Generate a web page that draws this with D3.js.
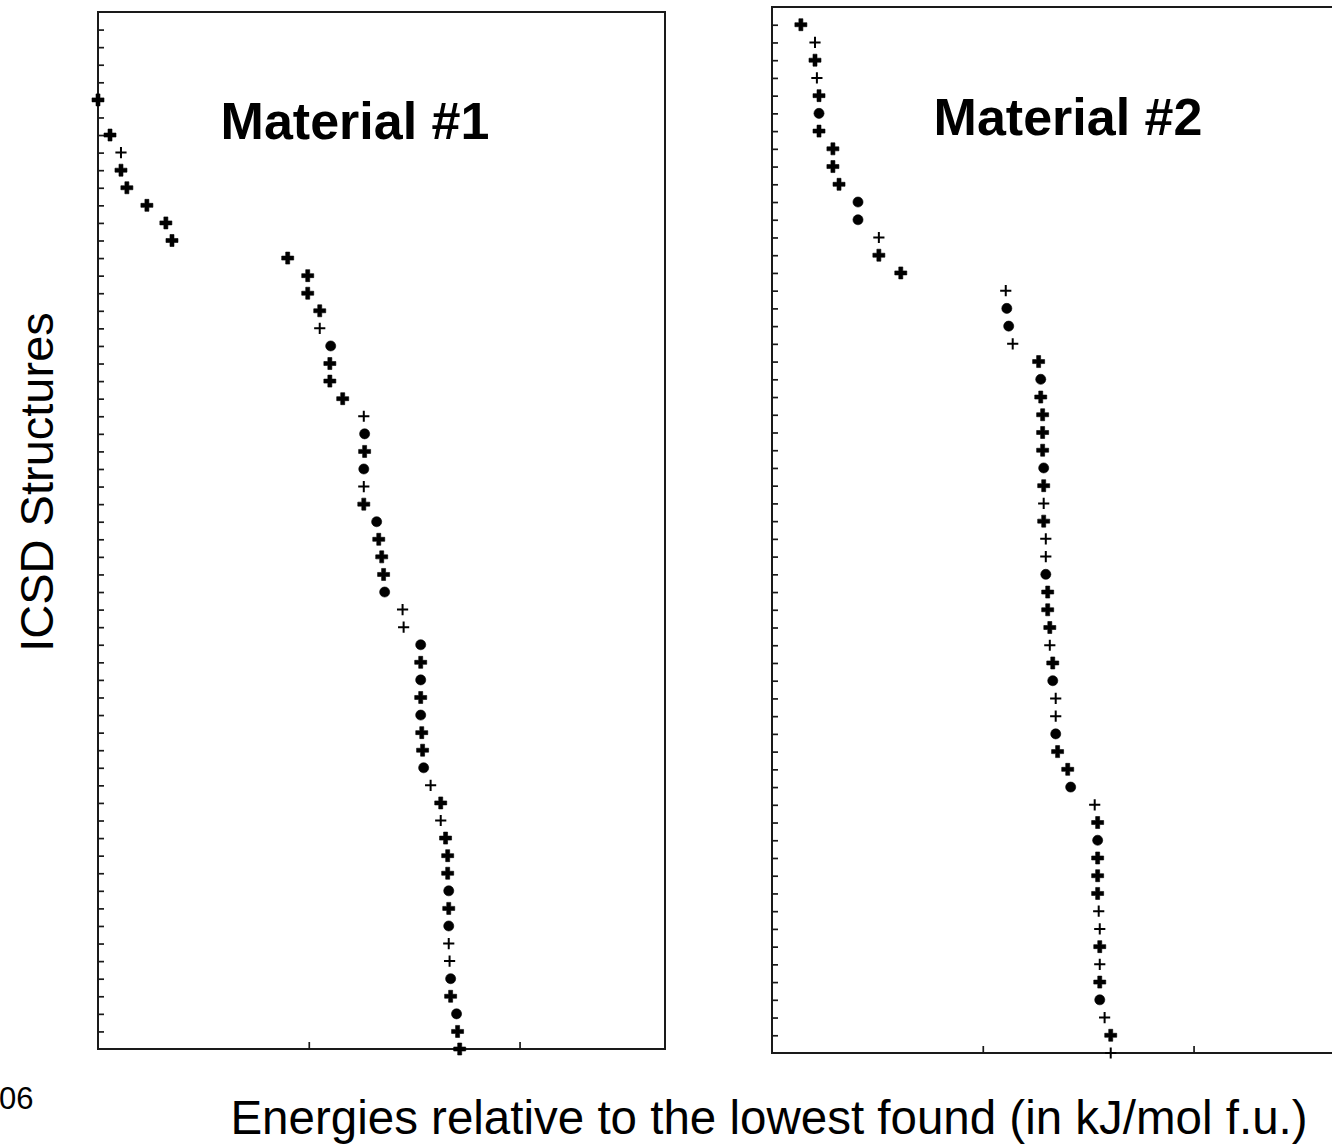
<!DOCTYPE html>
<html>
<head>
<meta charset="utf-8">
<script src="https://cdn.jsdelivr.net/npm/d3@7"></script>
<style>
  html, body { margin: 0; padding: 0; background: #fff; overflow: hidden; }
  svg { display: block; }
  text { font-family: "Liberation Sans", Arial, Helvetica, sans-serif; fill: #000; }
</style>
</head>
<body>
<svg id="chart" width="1332" height="1146"></svg>
<script>
// Rank of each ICSD structure (row 0 at the top, row 58 on the energy axis)
const rows = d3.range(59);

// Material #1: energy relative to the lowest structure found (kJ/mol f.u.), null = no structure
const energy1 = [
  null, null, null, null, 0.00, null, 0.57, 1.09, 1.09, 1.37,
  2.32, 3.22, 3.51, 9.00, 9.95, 9.95, 10.52, 10.52, 11.04, 11.00,
  11.00, 11.61, 12.61, 12.65, 12.65, 12.61, 12.61, 12.61, 13.22, 13.32,
  13.46, 13.55, 13.60, 14.45, 14.50, 15.31, 15.31, 15.31, 15.31, 15.31,
  15.36, 15.40, 15.45, 15.78, 16.26, 16.26, 16.49, 16.59, 16.59, 16.64,
  16.64, 16.64, 16.64, 16.68, 16.73, 16.73, 17.01, 17.06, 17.16
];
// Marker glyph per structure: p = plus, x = heavy cross, o = dot
const marker1 = [
  "", "", "", "", "x", "", "x", "p", "x", "x",
  "x", "x", "x", "x", "x", "x", "x", "p", "o", "x",
  "x", "x", "p", "o", "x", "o", "p", "x", "o", "x",
  "x", "x", "o", "p", "p", "o", "x", "o", "x", "o",
  "x", "x", "o", "p", "x", "p", "x", "x", "x", "o",
  "x", "o", "p", "p", "o", "x", "o", "x", "x"
];

// Material #2
const energy2 = [
  1.37, 2.04, 2.04, 2.13, 2.23, 2.23, 2.23, 2.89, 2.89, 3.18,
  4.08, 4.08, 5.07, 5.07, 6.11, 11.09, 11.14, 11.23, 11.42, 12.65,
  12.75, 12.75, 12.84, 12.84, 12.84, 12.89, 12.89, 12.89, 12.89, 12.99,
  12.99, 12.99, 13.08, 13.08, 13.18, 13.18, 13.32, 13.32, 13.46, 13.46,
  13.46, 13.55, 14.03, 14.17, 15.31, 15.45, 15.45, 15.45, 15.45, 15.45,
  15.50, 15.55, 15.55, 15.55, 15.55, 15.55, 15.78, 16.07, 16.07
];
const marker2 = [
  "x", "p", "x", "p", "x", "o", "x", "x", "x", "x",
  "o", "o", "p", "x", "x", "p", "o", "o", "p", "x",
  "o", "x", "x", "x", "x", "o", "x", "p", "x", "p",
  "p", "o", "x", "x", "x", "p", "x", "o", "p", "p",
  "o", "x", "x", "o", "p", "x", "o", "x", "x", "x",
  "p", "p", "x", "p", "x", "o", "p", "x", "p"
];

// Energy axis ticks (unlabelled)
const energyTicks = [10, 20];
const energyDomain = [0, 26.9];
const rowDomain = [-1, 58];

const panelTitles = ["Material #1", "Material #2"];
const yAxisLabel = "ICSD Structures";
const xAxisLabel = "Energies relative to the lowest found (in kJ/mol f.u.)";
const cornerLabel = "06";

const svg = d3.select("#chart");

// Thin plus glyph drawn as two strokes
const thinPlus = {
  draw(ctx, size) {
    const h = Math.sqrt(size) / 2;
    ctx.moveTo(-h, 0); ctx.lineTo(h, 0);
    ctx.moveTo(0, -h); ctx.lineTo(0, h);
  }
};
const glyph = {
  p: d3.symbol().type(thinPlus).size(125)(),
  x: d3.symbol().type(d3.symbolCross).size(80)(),
  o: d3.symbol().type(d3.symbolCircle).size(80)()
};

const panels = [
  { left: 98,  top: 12, bottom: 1049, width: 567, energy: energy1, marker: marker1, title: panelTitles[0], titleX: 355, titleY: 139 },
  { left: 772, top: 7,  bottom: 1053, width: 567, energy: energy2, marker: marker2, title: panelTitles[1], titleX: 1068, titleY: 135 }
];

panels.forEach(p => {
  const h = p.bottom - p.top;
  const x = d3.scaleLinear().domain(energyDomain).range([0, p.width]);
  const y = d3.scaleLinear().domain(rowDomain).range([0, h]);

  const g = svg.append("g").attr("transform", `translate(${p.left},${p.top})`);

  // Frame
  g.append("rect")
    .attr("x", 0).attr("y", 0)
    .attr("width", p.width).attr("height", h)
    .attr("fill", "none").attr("stroke", "#1a1a1a").attr("stroke-width", 2);

  // Row ticks along the left edge, pointing inward
  const yAxis = g.append("g")
    .call(d3.axisLeft(y).tickValues(rows.slice(0, 58)).tickSize(-6).tickFormat(""));
  yAxis.select(".domain").remove();
  yAxis.selectAll(".tick line").attr("stroke", "#1a1a1a").attr("stroke-width", 1.7);

  // Energy ticks along the bottom edge, pointing inward
  const xAxis = g.append("g").attr("transform", `translate(0,${h})`)
    .call(d3.axisBottom(x).tickValues(energyTicks).tickSize(-7).tickFormat(""));
  xAxis.select(".domain").remove();
  xAxis.selectAll(".tick line").attr("stroke", "#1a1a1a").attr("stroke-width", 1.7);

  // Structures
  const pts = rows
    .map(r => ({ row: r, e: p.energy[r], m: p.marker[r] }))
    .filter(d => d.e !== null);

  g.selectAll("path.pt")
    .data(pts)
    .join("path")
    .attr("class", "pt")
    .attr("transform", d => `translate(${x(d.e)},${y(d.row)})`)
    .attr("d", d => glyph[d.m])
    .attr("fill", d => d.m === "p" ? "none" : "#000")
    .attr("stroke", "#000")
    .attr("stroke-width", d => d.m === "p" ? 2 : 0.6);

  // Panel title
  svg.append("text")
    .attr("x", p.titleX).attr("y", p.titleY)
    .attr("text-anchor", "middle")
    .attr("font-weight", "bold")
    .attr("font-size", 52)
    .text(p.title);
});

// Axis titles
svg.append("text")
  .attr("transform", "translate(53,482) rotate(-90)")
  .attr("text-anchor", "middle")
  .attr("font-size", 47)
  .text(yAxisLabel);

svg.append("text")
  .attr("x", 769).attr("y", 1134)
  .attr("text-anchor", "middle")
  .attr("font-size", 47.5)
  .text(xAxisLabel);

svg.append("text")
  .attr("x", -1).attr("y", 1109)
  .attr("font-size", 31)
  .text(cornerLabel);
</script>
</body>
</html>
